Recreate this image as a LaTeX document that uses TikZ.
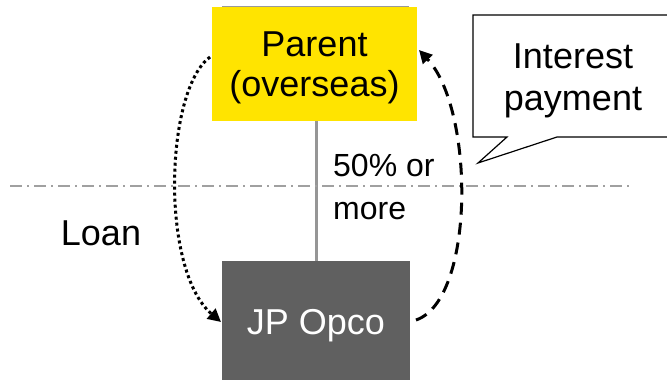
\documentclass[tikz,border=0pt]{standalone}
\usepackage{fontspec}
\setmainfont{Liberation Sans}
\usetikzlibrary{arrows.meta}
\definecolor{parentyellow}{RGB}{255,228,0}
\definecolor{opcogray}{RGB}{96,96,96}
\definecolor{linegray}{RGB}{150,150,150}
\definecolor{bordergray}{RGB}{160,160,160}
\begin{document}
\begin{tikzpicture}[x=1pt,y=-1pt,
  lbl/.style={inner sep=0pt, align=center, font=\fontsize{36}{40}\selectfont},
  small/.style={inner sep=0pt, align=left, font=\fontsize{32}{43}\selectfont},
  flow/.style={line width=3pt, -{Triangle[length=13pt,width=13pt]}}]
\useasboundingbox (0,0) rectangle (667,380);
% parent box
\draw[gray!80, line width=0.8pt] (222,6) -- (409,6);
\fill[parentyellow] (212,7) rectangle (417,121);
\node[lbl] (parent) at (314.5,68) {Parent\\(overseas)};
\coordinate (pl) at (210,57);
\coordinate (pr) at (419,50);
% opco box
\fill[opcogray] (222,261) rectangle (410,380);
\node[lbl, text=white, anchor=base] (opco) at (316,334) {JP Opco};
\coordinate (ol) at (221,322);
\coordinate (or) at (416,320);
% ownership line
\draw[line width=3pt, linegray] (316,121) -- (316,261);
% border line
\draw[bordergray, line width=1.2pt, dash pattern=on 12pt off 5pt on 2pt off 5pt] (10,186) -- (632,186);
% callout
\draw[line width=1.2pt, fill=white] (667,15) -- (473,15) -- (473,137) -- (507,137) -- (478,163) -- (557,137) -- (667,137);
\node[lbl, font=\fontsize{36}{42}\selectfont] (callout) at (573,81) {Interest\\payment};
% labels
\node[small, anchor=north west] (pct) at (333,154) {50\% or\\more};
\node[lbl, anchor=base] (loan) at (101,245) {Loan};
% arrows
\draw[flow, dash pattern=on 3pt off 3pt] (pl) .. controls (165,90) and (160,270) .. (ol);
\draw[flow, dash pattern=on 12pt off 8pt] (or) .. controls (475,300) and (475,110) .. (pr);
\end{tikzpicture}
\end{document}
